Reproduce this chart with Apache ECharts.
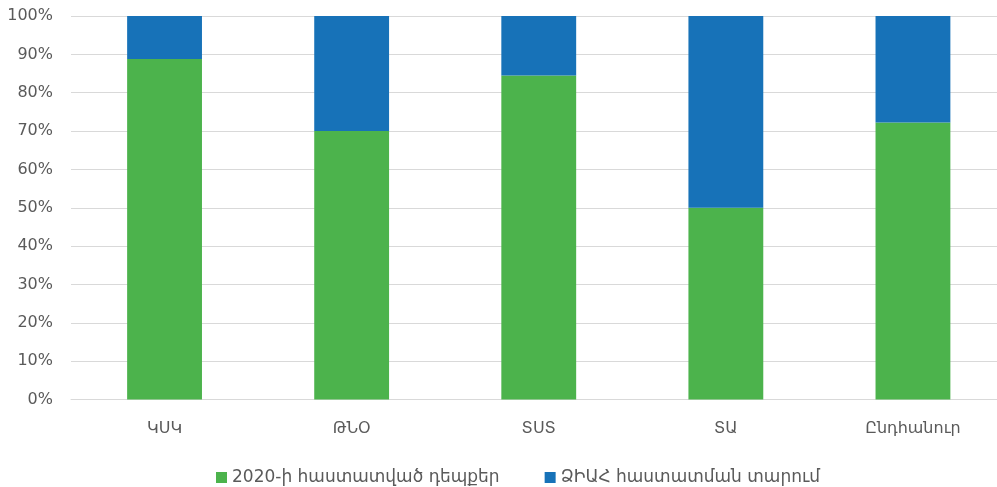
<!DOCTYPE html>
<html>
<head>
<meta charset="utf-8">
<script src="https://cdn.jsdelivr.net/npm/echarts@6/dist/echarts.min.js"></script>
<style>
  html, body { margin: 0; padding: 0; background: #fff; overflow: hidden; }
  #chart { width: 1010px; height: 487px; }
</style>
</head>
<body>
<div id="chart"></div>
<script>
// Categories and shares (percent of each column)
const categories = ['ԿՍԿ', 'ԹՆՕ', 'ՏՍՏ', 'ՏԱ', 'Ընդհանուր'];
const confirmed2020 = [88.8, 70.0, 84.5, 50.0, 72.2];
const hivConfirmationYear = [11.2, 30.0, 15.5, 50.0, 27.8];
const seriesNames = ['2020-ի հաստատված դեպքեր', 'ՁԻԱՀ հաստատման տարում'];
const yTicks = [0, 10, 20, 30, 40, 50, 60, 70, 80, 90, 100];

const FONT = '"DejaVu Sans", "Noto Sans", sans-serif';
const chart = echarts.init(document.getElementById('chart'), null, { renderer: 'canvas' });

chart.setOption({
  animation: false,
  textStyle: { fontFamily: FONT },
  grid: { left: 71, top: 16, width: 935.5, height: 383.5, containLabel: false },
  legend: {
    left: 211,
    top: 464,
    itemWidth: 11,
    itemHeight: 11,
    itemGap: 45,
    icon: 'rect',
    textStyle: { color: '#5a5a5a', fontSize: 17, fontFamily: FONT, padding: [0, 0, 0, 0] },
    data: seriesNames
  },
  xAxis: {
    type: 'category',
    data: categories,
    axisLine: { lineStyle: { color: '#d9d9d9', width: 1 } },
    axisTick: { show: false },
    axisLabel: { color: '#5a5a5a', fontSize: 16, margin: 21, fontFamily: FONT }
  },
  yAxis: {
    type: 'value',
    min: yTicks[0],
    max: yTicks[yTicks.length - 1],
    interval: 10,
    axisLine: { show: false },
    axisTick: { show: false },
    splitLine: { lineStyle: { color: '#d9d9d9', width: 1 } },
    axisLabel: {
      color: '#5a5a5a', fontSize: 16, margin: 18, fontFamily: FONT,
      formatter: v => v + '%'
    }
  },
  series: [
    {
      name: seriesNames[0],
      type: 'bar',
      stack: 'total',
      barWidth: '40%',
      data: confirmed2020,
      itemStyle: { color: '#4cb34c' }
    },
    {
      name: seriesNames[1],
      type: 'bar',
      stack: 'total',
      barWidth: '40%',
      data: hivConfirmationYear,
      itemStyle: { color: '#1772b8' }
    }
  ]
});
</script>
</body>
</html>
